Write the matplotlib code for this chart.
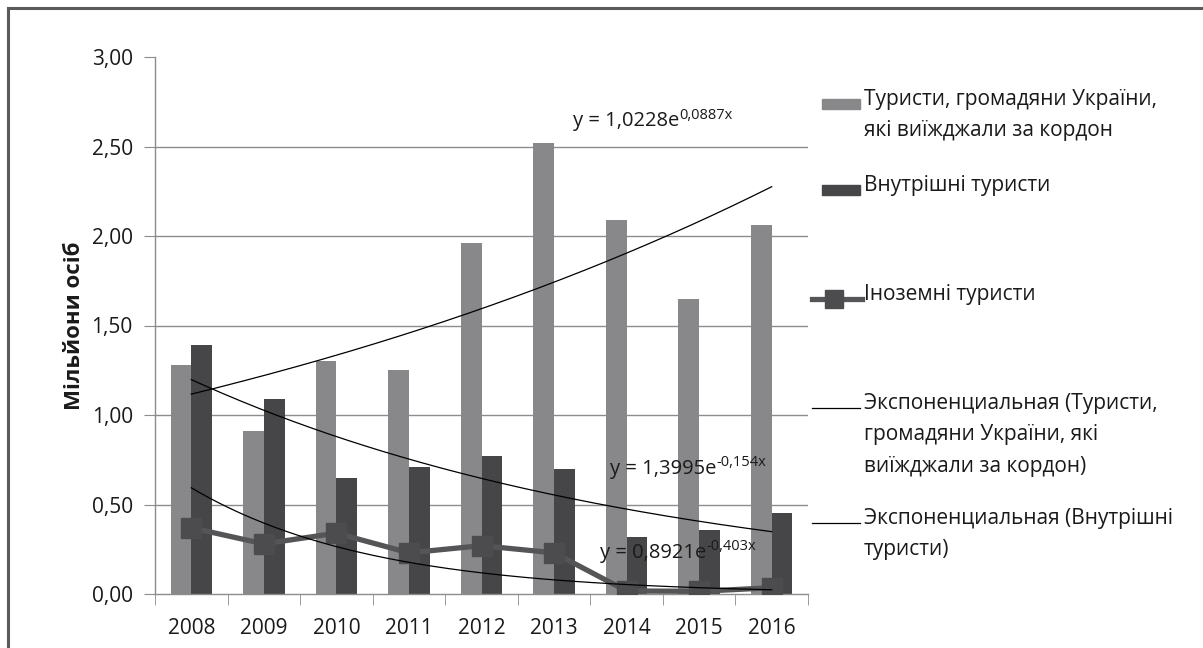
#Recreates the tourism bar chart with exponential trend lines
import matplotlib
matplotlib.use("Agg")
import matplotlib.pyplot as plt
from matplotlib.patches import Rectangle
from matplotlib.lines import Line2D
from matplotlib.ticker import FuncFormatter, FixedLocator
import numpy as np

plt.rcParams['font.family'] = ['Open Sans', 'DejaVu Sans']

#data (millions of persons)
years = ['2008', '2009', '2010', '2011', '2012', '2013', '2014', '2015', '2016']
outbound = [1.28, 0.91, 1.30, 1.25, 1.96, 2.52, 2.09, 1.65, 2.06]
domestic = [1.39, 1.09, 0.65, 0.71, 0.77, 0.70, 0.32, 0.36, 0.45]
foreign = [0.37, 0.28, 0.34, 0.23, 0.27, 0.23, 0.017, 0.015, 0.035]

label_outbound = 'Туристи, громадяни України,\nякі виїжджали за кордон'
label_domestic = 'Внутрішні туристи'
label_foreign = 'Іноземні туристи'
label_trend1 = 'Экспоненциальная (Туристи,\nгромадяни України, які\nвиїжджали за кордон)'
label_trend2 = 'Экспоненциальная (Внутрішні\nтуристи)'
y_label = 'Мільйони осіб'

#equation texts as shown on the chart
eq_outbound = ('y = 1,0228e', '0,0887x')
eq_domestic = ('y = 1,3995e', '-0,154x')
eq_foreign = ('y = 0,8921e', '-0,403x')

light = '#88888b'
dark = '#464648'
line_col = '#555557'
grid_col = '#8c8c8c'
text_col = '#1a1a1a'

W, H = 1203, 648
fig = plt.figure(figsize=(W / 100, H / 100), dpi=100)
ax = fig.add_axes([155 / W, 1 - 594 / H, (808 - 155) / W, (594 - 57) / H])

x = np.arange(len(years))
bw = 0.285
ax.bar(x - bw / 2, outbound, width=bw, color=light, zorder=2)
ax.bar(x + bw / 2, domestic, width=bw, color=dark, zorder=2)
ax.plot(x, foreign, color=line_col, linewidth=3.8, marker='s', markersize=14,
        markerfacecolor='#4c4c4e', markeredgecolor='#4c4c4e', zorder=3)


#exponential trendline like excel: fit ln(y) against 1..n
def trend(values):
    xs = np.arange(1, len(values) + 1)
    b, ln_a = np.polyfit(xs, np.log(values), 1)
    fine = np.linspace(1, len(values), 200)
    return fine - 1, np.exp(ln_a) * np.exp(b * fine)


for series in [outbound, domestic, foreign]:
    tx, ty = trend(series)
    ax.plot(tx, ty, color='black', linewidth=0.9, zorder=4)


def equation(xpos, ypos, parts):
    t = ax.text(xpos, ypos, parts[0], fontsize=14.5, va='center', ha='left',
                color=text_col, zorder=5)
    fig.canvas.draw()
    bb = t.get_window_extent()
    inv = ax.transData.inverted()
    x_end, _ = inv.transform((bb.x1, bb.y0))
    ax.text(x_end, ypos + 0.035, parts[1], fontsize=10.5, va='center', ha='left',
            color=text_col, zorder=5)


ax.set_xlim(-0.5, len(years) - 0.5)
ax.set_ylim(0, 3.0)

ax.set_yticks(np.arange(0, 3.01, 0.5))
ax.yaxis.set_major_formatter(FuncFormatter(lambda v, p: '{:.2f}'.format(v).replace('.', ',')))
for gy in np.arange(0.5, 2.51, 0.5):
    ax.axhline(gy, color=grid_col, linewidth=1, zorder=1)

ax.set_xticks(x)
ax.set_xticklabels(years)
ax.xaxis.set_minor_locator(FixedLocator(np.arange(-0.5, len(years), 1.0)))
ax.tick_params(axis='x', which='major', length=0, pad=17, labelsize=15, colors=text_col)
ax.tick_params(axis='x', which='minor', length=8, color=grid_col, direction='out')
ax.tick_params(axis='y', length=8, color=grid_col, pad=8, labelsize=15, labelcolor=text_col)

for side in ['top', 'right']:
    ax.spines[side].set_visible(False)
for side in ['left', 'bottom']:
    ax.spines[side].set_color(grid_col)
    ax.spines[side].set_linewidth(1)

fig.text(75 / W, 1 - 326 / H, y_label, rotation=90, fontsize=16, fontweight='bold',
         ha='center', va='center', color=text_col)

equation(5.26, 2.64, eq_outbound)
equation(5.77, 0.70, eq_domestic)
equation(5.63, 0.23, eq_foreign)

#legend drawn by hand so the keys line up with the first text line
def fx(px):
    return px / W


def fy(py):
    return 1 - py / H


text_x = fx(864)
entries = [
    ('bar', light, label_outbound, 104),
    ('bar', dark, label_domestic, 190),
    ('marker', line_col, label_foreign, 299),
    ('line', 'black', label_trend1, 408),
    ('line', 'black', label_trend2, 523),
]
for kind, col, label, py in entries:
    if kind == 'bar':
        fig.add_artist(Rectangle((fx(822), fy(py + 5)), fx(38), 10 / H, color=col))
    elif kind == 'marker':
        fig.add_artist(Line2D([fx(812), fx(862)], [fy(py), fy(py)], color=col, linewidth=3.8))
        fig.add_artist(Line2D([fx(834)], [fy(py)], marker='s', markersize=13, color='#4c4c4e'))
    else:
        fig.add_artist(Line2D([fx(812), fx(860)], [fy(py), fy(py)], color=col, linewidth=0.9))
    fig.text(text_x, fy(py - 15), label, fontsize=15, ha='left', va='top', color=text_col,
             linespacing=1.65)

#outer frame (only top and left edges show in the picture)
fig.add_artist(Rectangle((fx(8), -0.1), 1.2, 1 - 8 / H + 0.1, fill=False,
                         edgecolor='#5a5a5a', linewidth=2.2))

fig.savefig('out.png', dpi=100)
